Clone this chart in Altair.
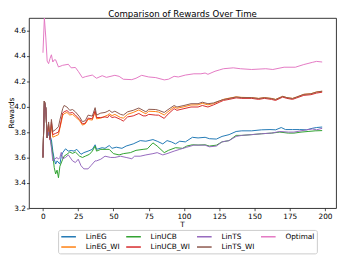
import altair as alt
import pandas as pd

TITLE = "Comparison of Rewards Over Time"
X_TITLE = "T"
Y_TITLE = "Rewards"
NAMES = ["LinEG", "LinEG_WI", "LinUCB", "LinUCB_WI", "LinTS", "LinTS_WI", "Optimal"]
COLORS = ["#1f77b4", "#ff7f0e", "#2ca02c", "#d62728", "#9467bd", "#8c564b", "#e377c2"]

# shared start of every algorithm
T_START = [0, 1, 2, 3]
R_START = [3.60, 4.045, 3.99, 3.755]

T_LINEG = [4, 5, 6, 7, 8, 9, 10, 12, 13, 14, 16, 18, 20, 22, 24, 27, 29, 32, 35, 37, 38, 42, 44, 47, 49, 52, 56, 59, 64, 69, 73, 78, 81, 85, 88, 91, 94, 97, 101, 106, 110, 115, 118, 123, 127, 132, 137, 141, 148, 155, 161, 165, 169, 172, 177, 182, 187, 191, 194, 198]
R_LINEG = [3.80, 3.77, 3.74, 3.65, 3.586, 3.548, 3.573, 3.548, 3.61, 3.638, 3.668, 3.65, 3.655, 3.65, 3.664, 3.625, 3.638, 3.65, 3.664, 3.70, 3.664, 3.677, 3.672, 3.694, 3.672, 3.681, 3.672, 3.69, 3.707, 3.733, 3.728, 3.741, 3.728, 3.707, 3.733, 3.723, 3.707, 3.728, 3.723, 3.759, 3.754, 3.759, 3.748, 3.745, 3.766, 3.78, 3.805, 3.81, 3.81, 3.818, 3.82, 3.818, 3.836, 3.82, 3.82, 3.82, 3.818, 3.83, 3.836, 3.84]

T_LINEG_WI = [4, 5, 6, 7, 9, 11, 12, 14, 15, 17, 19, 21, 23, 26, 28, 30, 32, 35, 37, 38, 41, 44, 46, 47, 49, 51, 55, 57, 60, 64, 68, 71, 73, 75, 80, 82, 86, 88, 93, 95, 100, 105, 110, 113, 117, 121, 125, 128, 132, 137, 141, 148, 153, 157, 162, 165, 170, 173, 177, 180, 185, 190, 194, 198]
R_LINEG_WI = [3.85, 3.74, 3.86, 3.76, 3.77, 3.78, 3.83, 3.93, 3.945, 3.955, 3.935, 3.94, 3.92, 3.89, 3.855, 3.865, 3.90, 3.895, 3.96, 3.905, 3.91, 3.925, 3.935, 3.945, 3.93, 3.94, 3.915, 3.91, 3.94, 3.955, 3.975, 3.955, 3.945, 3.965, 3.962, 3.958, 3.935, 3.955, 3.998, 3.988, 4.0, 4.014, 4.015, 4.027, 4.015, 4.025, 4.045, 4.058, 4.068, 4.078, 4.074, 4.072, 4.066, 4.072, 4.066, 4.058, 4.082, 4.072, 4.066, 4.077, 4.098, 4.103, 4.117, 4.122]

T_LINUCB = [4, 5, 6, 7, 8, 9, 10, 11, 12, 14, 15, 17, 19, 21, 23, 26, 28, 30, 33, 35, 37, 38, 41, 44, 47, 50, 54, 57, 62, 66, 71, 74, 78, 81, 86, 89, 94, 99, 102, 106, 110, 115, 118, 123, 127, 132, 137, 141, 148, 155, 162, 168, 174, 178, 183, 188, 193, 198]
R_LINUCB = [3.80, 3.766, 3.70, 3.62, 3.52, 3.47, 3.50, 3.44, 3.53, 3.586, 3.61, 3.625, 3.643, 3.632, 3.643, 3.61, 3.60, 3.61, 3.625, 3.65, 3.69, 3.65, 3.664, 3.664, 3.664, 3.63, 3.62, 3.63, 3.638, 3.656, 3.664, 3.668, 3.715, 3.69, 3.638, 3.656, 3.677, 3.672, 3.69, 3.70, 3.698, 3.70, 3.69, 3.697, 3.723, 3.733, 3.774, 3.774, 3.78, 3.787, 3.792, 3.80, 3.792, 3.792, 3.80, 3.805, 3.81, 3.812]

T_LINUCB_WI = [4, 5, 6, 7, 9, 11, 12, 14, 15, 17, 19, 21, 23, 26, 28, 30, 32, 35, 37, 38, 41, 44, 46, 47, 49, 51, 55, 57, 60, 64, 68, 71, 73, 75, 80, 82, 86, 88, 93, 95, 100, 105, 110, 113, 117, 121, 125, 128, 132, 137, 141, 148, 153, 157, 162, 165, 170, 173, 177, 180, 185, 190, 194, 198]
R_LINUCB_WI = [3.86, 3.74, 3.88, 3.78, 3.79, 3.80, 3.84, 3.95, 3.96, 3.97, 3.95, 3.955, 3.935, 3.90, 3.865, 3.87, 3.91, 3.905, 3.97, 3.915, 3.915, 3.92, 3.915, 3.934, 3.915, 3.92, 3.90, 3.887, 3.92, 3.928, 3.947, 3.928, 3.928, 3.94, 3.934, 3.934, 3.908, 3.934, 3.985, 3.972, 3.985, 3.998, 3.998, 4.01, 3.998, 4.015, 4.035, 4.05, 4.058, 4.07, 4.066, 4.066, 4.058, 4.066, 4.058, 4.05, 4.076, 4.066, 4.058, 4.07, 4.09, 4.095, 4.108, 4.115]

T_LINTS = [4, 5, 6, 7, 8, 10, 11, 12, 13, 14, 16, 18, 21, 23, 25, 27, 29, 32, 34, 37, 38, 41, 44, 48, 51, 55, 59, 63, 65, 69, 73, 78, 81, 85, 88, 93, 97, 102, 107, 110, 115, 118, 123, 127, 132, 137, 141, 148, 155, 162, 168, 174, 178, 183, 187, 191, 194, 198]
R_LINTS = [3.80, 3.75, 3.677, 3.573, 3.586, 3.60, 3.586, 3.60, 3.64, 3.59, 3.60, 3.62, 3.573, 3.56, 3.586, 3.535, 3.51, 3.51, 3.535, 3.573, 3.573, 3.586, 3.61, 3.60, 3.60, 3.61, 3.60, 3.59, 3.61, 3.61, 3.62, 3.63, 3.638, 3.62, 3.63, 3.65, 3.664, 3.681, 3.697, 3.697, 3.697, 3.684, 3.69, 3.723, 3.733, 3.766, 3.774, 3.78, 3.787, 3.792, 3.805, 3.80, 3.80, 3.81, 3.818, 3.825, 3.818, 3.83]

T_LINTS_WI = [4, 5, 6, 7, 9, 11, 12, 14, 15, 17, 19, 21, 23, 26, 28, 30, 32, 35, 37, 38, 41, 44, 46, 47, 49, 51, 55, 57, 60, 64, 68, 71, 73, 75, 80, 82, 86, 88, 93, 95, 100, 105, 110, 113, 117, 121, 125, 128, 132, 137, 141, 148, 153, 157, 162, 165, 170, 173, 177, 180, 185, 190, 194, 198]
R_LINTS_WI = [3.88, 3.75, 3.90, 3.805, 3.82, 3.843, 3.895, 3.985, 4.01, 3.998, 3.972, 3.978, 3.96, 3.92, 3.882, 3.89, 3.934, 3.926, 3.993, 3.934, 3.95, 3.955, 3.965, 3.972, 3.955, 3.965, 3.94, 3.934, 3.96, 3.972, 3.99, 3.972, 3.96, 3.98, 3.978, 3.972, 3.955, 3.972, 4.01, 3.998, 4.01, 4.024, 4.024, 4.036, 4.024, 4.03, 4.046, 4.057, 4.065, 4.077, 4.072, 4.072, 4.065, 4.072, 4.065, 4.057, 4.082, 4.072, 4.065, 4.077, 4.098, 4.102, 4.116, 4.123]

T_OPTIMAL = [0, 1, 2, 3, 4, 5, 6, 7, 8, 9, 11, 14, 18, 20, 23, 25, 28, 30, 35, 38, 42, 45, 51, 54, 57, 63, 66, 70, 75, 80, 86, 89, 93, 96, 101, 107, 112, 115, 117, 122, 125, 128, 135, 140, 148, 158, 163, 171, 179, 185, 191, 194, 198]
R_OPTIMAL = [4.426, 4.90, 4.55, 4.36, 4.34, 4.38, 4.41, 4.353, 4.37, 4.37, 4.314, 4.327, 4.335, 4.307, 4.31, 4.28, 4.229, 4.237, 4.25, 4.225, 4.245, 4.232, 4.248, 4.24, 4.217, 4.214, 4.225, 4.248, 4.235, 4.23, 4.212, 4.217, 4.24, 4.235, 4.25, 4.26, 4.26, 4.266, 4.256, 4.28, 4.29, 4.30, 4.307, 4.30, 4.294, 4.30, 4.294, 4.312, 4.312, 4.333, 4.35, 4.358, 4.353]

X_TICKS = [0, 25, 50, 75, 100, 125, 150, 175, 200]
Y_TICKS = [3.2, 3.4, 3.6, 3.8, 4.0, 4.2, 4.4, 4.6]

SERIES = [
    ("LinEG", T_START + T_LINEG, R_START + R_LINEG),
    ("LinEG_WI", T_START + T_LINEG_WI, R_START + R_LINEG_WI),
    ("LinUCB", T_START + T_LINUCB, R_START + R_LINUCB),
    ("LinUCB_WI", T_START + T_LINUCB_WI, R_START + R_LINUCB_WI),
    ("LinTS", T_START + T_LINTS, R_START + R_LINTS),
    ("LinTS_WI", T_START + T_LINTS_WI, R_START + R_LINTS_WI),
    ("Optimal", T_OPTIMAL, R_OPTIMAL),
]

FONT = "DejaVu Sans"
W, H = 314.5, 194.7

color = alt.Color(
    "Algorithm:N",
    scale=alt.Scale(domain=NAMES, range=COLORS),
    legend=alt.Legend(
        title=None, orient="none", legendX=29.8, legendY=217.0, columns=4,
        direction="vertical", gridAlign="each",
        symbolType="M-2,0H2", symbolSize=56.25, symbolOffset=3.75,
        symbolStrokeWidth=1.5, symbolFillColor="transparent",
        labelFont=FONT, labelFontSize=7.5, labelColor="black", labelOffset=13,
        columnPadding=2.5, rowPadding=2.5, padding=2.5,
        strokeColor="#cccccc", fillColor="white", cornerRadius=2,
    ),
)

x = alt.X("T:Q", title=None,
          scale=alt.Scale(domain=[-9.9, 207.9], nice=False, zero=False),
          axis=alt.Axis(values=X_TICKS, format="d", grid=False, domain=False,
                        tickSize=2.6, tickColor="black", tickWidth=0.7,
                        labelPadding=1.5, labelFontSize=7.5, labelColor="black", labelFont=FONT))
y = alt.Y("Rewards:Q", title=None,
          scale=alt.Scale(domain=[3.2, 4.7], nice=False, zero=False, clamp=True),
          axis=alt.Axis(values=Y_TICKS, format=".1f", grid=False, domain=False,
                        tickSize=2.6, tickColor="black", tickWidth=0.7,
                        labelPadding=1.0, labelFontSize=7.5, labelColor="black", labelFont=FONT))

layers = []
for name, ts, rs in SERIES:
    df = pd.DataFrame({"T": ts, "Rewards": rs, "Algorithm": name})
    layers.append(
        alt.Chart(df).mark_line(strokeWidth=1.0, clip=True).encode(x=x, y=y, color=color)
    )

def label_layer(txt, px, py, size, angle=0):
    return alt.Chart(pd.DataFrame({"label": [txt]})).mark_text(
        font=FONT, fontSize=size, color="black", align="center",
        baseline="alphabetic", angle=angle
    ).encode(text="label:N", x=alt.value(px), y=alt.value(py))

layers.append(label_layer(TITLE, W / 2, -1.3, 8.8))
layers.append(label_layer(X_TITLE, W / 2, 214.5, 7.5))
layers.append(label_layer(Y_TITLE, -15.5, H / 2, 7.5, angle=270))

chart = alt.layer(*layers).properties(
    width=W,
    height=H,
    autosize=alt.AutoSizeParams(type="none"),
    padding={"left": 21.5, "top": 7.3, "right": 5, "bottom": 45},
).configure_view(stroke="black", strokeWidth=0.8)

chart.save("out.html", embed_options={"renderer": "svg", "actions": False})
